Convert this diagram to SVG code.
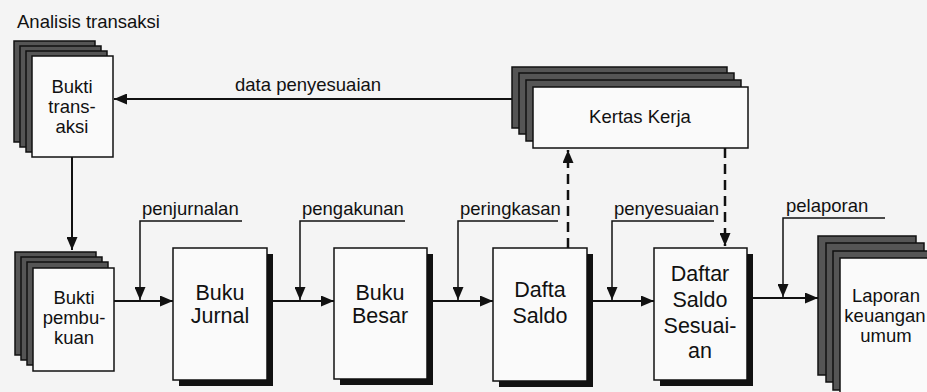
<svg xmlns="http://www.w3.org/2000/svg" width="927" height="392" viewBox="0 0 927 392">
<defs>
<marker id="ah" markerWidth="13" markerHeight="11" refX="13" refY="5.5" orient="auto" markerUnits="userSpaceOnUse"><path d="M0,0 L13,5.5 L0,11 z" fill="#111"/></marker>
<style>
.t{font-family:"Liberation Sans",Arial,sans-serif;fill:#111}
.lbl{font-size:18.5px}
.big{font-size:21.5px;text-anchor:middle}
.med{font-size:18.5px;text-anchor:middle}
.sheet{fill:#555;stroke:#111;stroke-width:1.5}
.front{fill:#fafafa;stroke:#111;stroke-width:1.5}
.box{fill:#fafafa;stroke:#111;stroke-width:1.5}
.shadow{fill:#111}
.conn{stroke:#111;stroke-width:2;fill:none}
.lead{stroke:#111;stroke-width:1.5;fill:none}
.dash{stroke:#111;stroke-width:2.5;stroke-dasharray:10 6;fill:none}
</style>
</defs>
<rect width="927" height="392" fill="#f4f4f4"/>
<text class="t lbl" x="17" y="28">Analisis transaksi</text>

<g id="bukti-transaksi">
<rect class="sheet" x="14" y="41" width="81" height="101"/>
<rect class="sheet" x="20" y="46" width="81" height="101"/>
<rect class="sheet" x="26" y="51" width="81" height="101"/>
<rect class="front" x="32" y="56" width="81" height="101"/>
<text class="t med" x="72" y="93">Bukti</text>
<text class="t med" x="72" y="113">trans-</text>
<text class="t med" x="72" y="133">aksi</text>
</g>

<g id="kertas-kerja">
<rect class="sheet" x="512" y="67" width="215" height="61"/>
<rect class="sheet" x="519" y="73" width="215" height="61"/>
<rect class="sheet" x="526" y="80" width="215" height="61"/>
<rect class="front" x="533" y="87" width="215" height="61"/>
<text class="t med" x="640" y="123">Kertas Kerja</text>
</g>

<g id="bukti-pembukuan">
<rect class="sheet" x="15" y="252" width="81" height="103"/>
<rect class="sheet" x="21" y="257" width="81" height="103"/>
<rect class="sheet" x="27" y="262" width="81" height="103"/>
<rect class="front" x="33" y="268" width="81" height="103"/>
<text class="t med" x="74" y="304">Bukti</text>
<text class="t med" x="74" y="324">pembu-</text>
<text class="t med" x="74" y="344">kuan</text>
</g>

<g id="buku-jurnal">
<rect class="shadow" x="179" y="254" width="94" height="132"/>
<rect class="box" x="173" y="248" width="94" height="132"/>
<text class="t big" x="220" y="300">Buku</text>
<text class="t big" x="220" y="323">Jurnal</text>
</g>

<g id="buku-besar">
<rect class="shadow" x="340" y="254" width="93" height="131"/>
<rect class="box" x="334" y="248" width="93" height="131"/>
<text class="t big" x="380" y="300">Buku</text>
<text class="t big" x="380" y="323">Besar</text>
</g>

<g id="dafta-saldo">
<rect class="shadow" x="499" y="254" width="94" height="133"/>
<rect class="box" x="493" y="248" width="94" height="133"/>
<text class="t big" x="540" y="297">Dafta</text>
<text class="t big" x="540" y="323">Saldo</text>
</g>

<g id="daftar-saldo-sesuaian">
<rect class="shadow" x="660" y="254" width="93" height="132"/>
<rect class="box" x="654" y="248" width="93" height="132"/>
<text class="t big" x="700" y="281">Daftar</text>
<text class="t big" x="700" y="307">Saldo</text>
<text class="t big" x="700" y="333">Sesuai-</text>
<text class="t big" x="700" y="358">an</text>
</g>

<g id="laporan">
<rect class="sheet" x="818" y="236" width="98" height="139"/>
<rect class="sheet" x="826" y="243" width="98" height="139"/>
<rect class="sheet" x="833" y="251" width="98" height="139"/>
<rect class="front" x="840" y="258" width="98" height="139"/>
<text class="t med" x="886" y="302">Laporan</text>
<text class="t med" x="885" y="322">keuangan</text>
<text class="t med" x="886" y="342">umum</text>
</g>

<g id="connectors">
<path class="conn" d="M512,99 L114,99" marker-end="url(#ah)"/>
<text class="t lbl" x="235" y="91">data penyesuaian</text>
<path class="conn" d="M72,157 L72,250" marker-end="url(#ah)"/>
<path class="conn" d="M114,301 L173,301" marker-end="url(#ah)"/>
<path class="conn" d="M273,301 L334,301" marker-end="url(#ah)"/>
<path class="conn" d="M433,301 L493,301" marker-end="url(#ah)"/>
<path class="conn" d="M593,301 L654,301" marker-end="url(#ah)"/>
<path class="conn" d="M753,298 L818,298" marker-end="url(#ah)"/>
<path class="lead" d="M242,221 L140,221 L140,300" marker-end="url(#ah)"/>
<text class="t lbl" x="142" y="215">penjurnalan</text>
<path class="lead" d="M405,221 L300,221 L300,300" marker-end="url(#ah)"/>
<text class="t lbl" x="302" y="215">pengakunan</text>
<path class="lead" d="M558,221 L458,221 L458,300" marker-end="url(#ah)"/>
<text class="t lbl" x="460" y="215">peringkasan</text>
<path class="lead" d="M714,221 L612,221 L612,300" marker-end="url(#ah)"/>
<text class="t lbl" x="614" y="215">penyesuaian</text>
<path class="lead" d="M885,218 L783,218 L783,297" marker-end="url(#ah)"/>
<text class="t lbl" x="786" y="212">pelaporan</text>
<path class="dash" d="M568,248 L568,150" marker-end="url(#ah)"/>
<path class="dash" d="M725,148 L725,246" marker-end="url(#ah)"/>
</g>
</svg>
